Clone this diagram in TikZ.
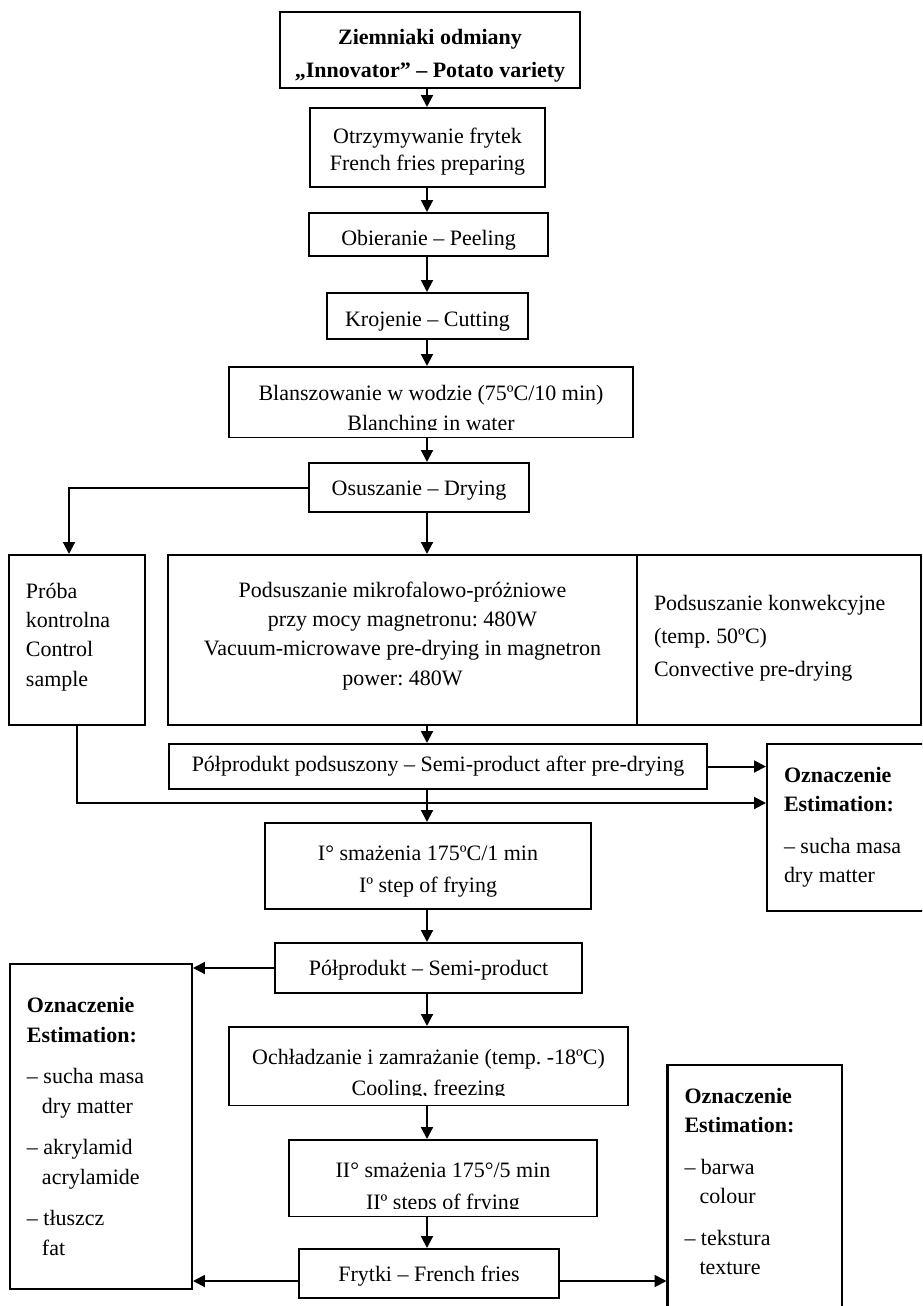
\documentclass[tikz,border=0pt]{standalone}
\usepackage{fontspec}
\setmainfont{Liberation Serif}
\usetikzlibrary{arrows.meta, calc}
\newlength{\pu}
\setlength{\pu}{0.0192cm}
% struts that move the text of a box down or up
\newcommand{\padtop}[1]{\rule{0pt}{#1}}
\newcommand{\padbot}[1]{\rule[-#1]{0pt}{0pt}}
\frenchspacing

\begin{document}
\begin{tikzpicture}[x=\pu, y=-\pu,
  box/.style={draw, line width=1.1pt, align=center, inner sep=0pt, font=\fontsize{12}{16}\selectfont},
  lbox/.style={box, align=flush left, inner xsep=17\pu},
  arr/.style={-{Triangle[length=6.5pt, width=6.5pt]}, line width=1.1pt},
]
  \useasboundingbox (0,0) rectangle (922,1306);
  \clip (0,0) rectangle (922,1306);
  % main line of the process
  \node[box, font=\fontsize{12}{16}\selectfont\bfseries, minimum width=300\pu, minimum height=76\pu] (potato) at (430,50) {\padtop{15pt}Ziemniaki odmiany\\[2pt]„Innovator” – Potato variety};
  \node[box, minimum width=235\pu, minimum height=79\pu] (prep) at (427.5,147.5) {\padtop{13.4pt}Otrzymywanie frytek\\[-1.3pt]French fries preparing};
  \node[box, minimum width=239\pu, minimum height=43\pu] (peel) at (428.5,234.5) {\padtop{15pt}Obieranie – Peeling};
  \node[box, minimum width=201\pu, minimum height=46\pu] (cut) at (427.5,316) {\padtop{14pt}Krojenie – Cutting};
  \node[box, minimum width=404\pu, minimum height=70\pu] (blanch) at (431,402) {\padtop{17.2pt}Blanszowanie w wodzie (75ºC/10 min)\\Blanching in water};
  \node[box, minimum width=220\pu, minimum height=49\pu] (dry) at (419,487.5) {\padtop{11.8pt}Osuszanie – Drying};
  \node[lbox, text width=102\pu, minimum height=170\pu] (ctrl) at (77,640) {Próba\\kontrolna\\Control\\sample\padbot{5.9pt}};
  \node[box, minimum width=469\pu, minimum height=170\pu] (mw) at (402.5,640) {Podsuszanie mikrofalowo-próżniowe\\przy mocy magnetronu: 480W\\Vacuum-microwave pre-drying in magnetron\\power: 480W\padbot{7pt}};
  \node[lbox, text width=250\pu, minimum height=170\pu] (conv) at (779,640) {Podsuszanie konwekcyjne\\[2pt](temp. 50ºC)\\[2pt]Convective pre-drying\padbot{4.8pt}};
  \node[box, minimum width=538\pu, minimum height=45\pu] (semi1) at (438,766.5) {Półprodukt podsuszony – Semi-product after pre-drying};
  \node[box, minimum width=326\pu, minimum height=86\pu] (fry1) at (428,866) {\padtop{14pt}I° smażenia 175ºC/1 min\\[1.4pt]Iº step of frying};
  \node[box, minimum width=307\pu, minimum height=50\pu] (semi2) at (428.5,968) {\padtop{10.7pt}Półprodukt – Semi-product};
  \node[box, minimum width=399\pu, minimum height=78\pu] (cool) at (428.5,1066) {\padtop{18.3pt}Ochładzanie i zamrażanie (temp. -18ºC)\\[1pt]Cooling, freezing};
  \node[box, minimum width=308\pu, minimum height=76\pu] (fry2) at (443,1178) {\padtop{19.4pt}II° smażenia 175°/5 min\\[1.4pt]IIº steps of frying};
  \node[box, minimum width=260\pu, minimum height=49\pu] (fries) at (429,1273.5) {\padtop{11.8pt}Frytki – French fries};
  % estimation boxes
  \node[lbox, text width=140\pu, minimum height=167\pu] (est1) at (854,827.5) {\textbf{Oznaczenie}\\\textbf{Estimation:}\\[6.8pt]– sucha masa\\dry matter};
  \node[lbox, text width=148\pu, minimum height=325\pu] (est2) at (101,1126.5) {\textbf{Oznaczenie}\\\textbf{Estimation:}\\[6.8pt]– sucha masa\\\hspace*{15\pu}dry matter\\[6.8pt]– akrylamid\\\hspace*{15\pu}acrylamide\\[6.8pt]– tłuszcz\\\hspace*{15\pu}fat};
  \node[lbox, text width=140\pu, minimum height=247\pu] (est3) at (754.5,1188.5) {\textbf{Oznaczenie}\\\textbf{Estimation:}\\[6.8pt]– barwa\\\hspace*{15\pu}colour\\[6.8pt]– tekstura\\\hspace*{15\pu}texture\padbot{8pt}};
  % text cut at the bottom of three boxes
  \fill[white] ($(blanch.south west)+(2,-8)$) rectangle ($(blanch.south east)+(-2,-1.5)$);
  \fill[white] ($(cool.south west)+(2,-10)$) rectangle ($(cool.south east)+(-2,-1.5)$);
  \fill[white] ($(fry2.south west)+(2,-8)$) rectangle ($(fry2.south east)+(-2,-1.5)$);
  % connectors
  \coordinate (ax) at (427,0);
  \coordinate (mix) at (427,803);
  \coordinate (out) at (429,1281);
  \draw[arr] (ax |- potato.south) -- (ax |- prep.north); \draw[arr] (ax |- prep.south) -- (ax |- peel.north);
  \draw[arr] (ax |- peel.south) -- (ax |- cut.north); \draw[arr] (ax |- cut.south) -- (ax |- blanch.north);
  \draw[arr] (ax |- blanch.south) -- (ax |- dry.north); \draw[arr] (ax |- dry.south) -- (ax |- mw.north);
  \draw[arr] (dry.west) -| ($(ctrl.north)+(-8,0)$);
  \draw[arr] (ax |- mw.south) -- (ax |- semi1.north);
  \draw[arr] (semi1.east) -- (semi1.east -| est1.west);
  \draw[arr] (ctrl.south) |- (mix -| est1.west);
  \draw[arr] (ax |- semi1.south) -- (ax |- fry1.north); \draw[arr] (ax |- fry1.south) -- (ax |- semi2.north);
  \draw[arr] (semi2.west) -- (semi2.west -| est2.east);
  \draw[arr] (ax |- semi2.south) -- (ax |- cool.north); \draw[arr] (ax |- cool.south) -- (ax |- fry2.north);
  \draw[arr] (ax |- fry2.south) -- (ax |- fries.north);
  \draw[arr] (fries.west |- out) -- (est2.east |- out);
  \draw[arr] (fries.east |- out) -- (est3.west |- out);
\end{tikzpicture}
\end{document}
